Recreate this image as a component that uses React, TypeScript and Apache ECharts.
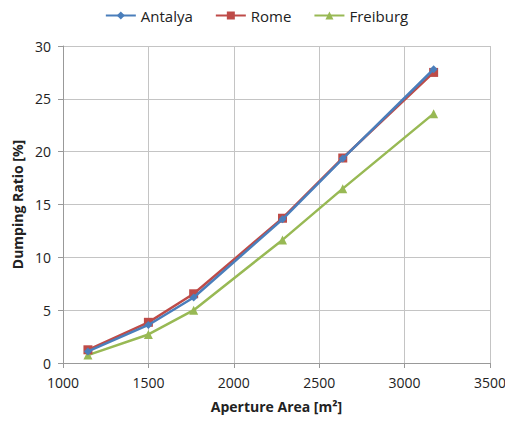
import React, { useEffect, useRef } from "react";
import * as echarts from "echarts";

const xValues = [1146, 1500, 1765, 2285, 2638, 3170];
const antalya = [1.1, 3.6, 6.2, 13.6, 19.35, 27.8];
const rome = [1.25, 3.85, 6.55, 13.7, 19.4, 27.5];
const freiburg = [0.75, 2.7, 5.0, 11.65, 16.5, 23.6];

const font = "'Open Sans', 'Noto Sans', sans-serif";

export default function App() {
  const ref = useRef<HTMLDivElement>(null);
  useEffect(() => {
    const chart = echarts.init(ref.current!, null, { renderer: "svg" });
    const mk = (arr: number[]) => xValues.map((x, i) => [x, arr[i]]);
    chart.setOption({
      animation: false,
      textStyle: { fontFamily: font },
      legend: {
        top: 3,
        left: "center",
        itemWidth: 30,
        itemHeight: 10,
        itemGap: 22,
        textStyle: { fontSize: 15, color: "#222", fontFamily: font },
        data: ["Antalya", "Rome", "Freiburg"],
      },
      grid: { left: 63, right: 23, top: 46, bottom: 60 },
      xAxis: {
        type: "value",
        min: 1000,
        max: 3500,
        interval: 500,
        name: "Aperture Area [m²]",
        nameLocation: "middle",
        nameGap: 36,
        nameTextStyle: { fontSize: 14, fontWeight: "bold", color: "#222", fontFamily: font },
        axisLine: { lineStyle: { color: "#999" } },
        axisTick: { show: true, length: 5, lineStyle: { color: "#999" } },
        axisLabel: { fontSize: 14, color: "#222", margin: 12, formatter: (v: number) => String(v) },
        splitLine: { show: true, lineStyle: { color: "#c4c4c4" } },
      },
      yAxis: {
        type: "value",
        min: 0,
        max: 30,
        interval: 5,
        name: "Dumping Ratio [%]",
        nameLocation: "middle",
        nameGap: 36,
        nameTextStyle: { fontSize: 14, fontWeight: "bold", color: "#222", fontFamily: font },
        axisLine: { show: true, lineStyle: { color: "#999" } },
        axisTick: { show: true, length: 5, lineStyle: { color: "#999" } },
        axisLabel: { fontSize: 14, color: "#222", margin: 12 },
        splitLine: { show: true, lineStyle: { color: "#c4c4c4" } },
      },
      series: [
        {
          name: "Antalya",
          type: "line",
          data: mk(antalya),
          symbol: "diamond",
          symbolSize: 8,
          color: "#4A7EBB",
          lineStyle: { width: 2.5 },
          z: 3,
        },
        {
          name: "Rome",
          type: "line",
          data: mk(rome),
          symbol: "rect",
          symbolSize: 9,
          color: "#BE4B48",
          lineStyle: { width: 2.5 },
          z: 2,
        },
        {
          name: "Freiburg",
          type: "line",
          data: mk(freiburg),
          symbol: "triangle",
          symbolSize: 9,
          color: "#98B954",
          lineStyle: { width: 2.5 },
          z: 1,
        },
      ],
    });
    return () => chart.dispose();
  }, []);
  return <div ref={ref} style={{ width: 513, height: 423, margin: -8 }} />;
}
